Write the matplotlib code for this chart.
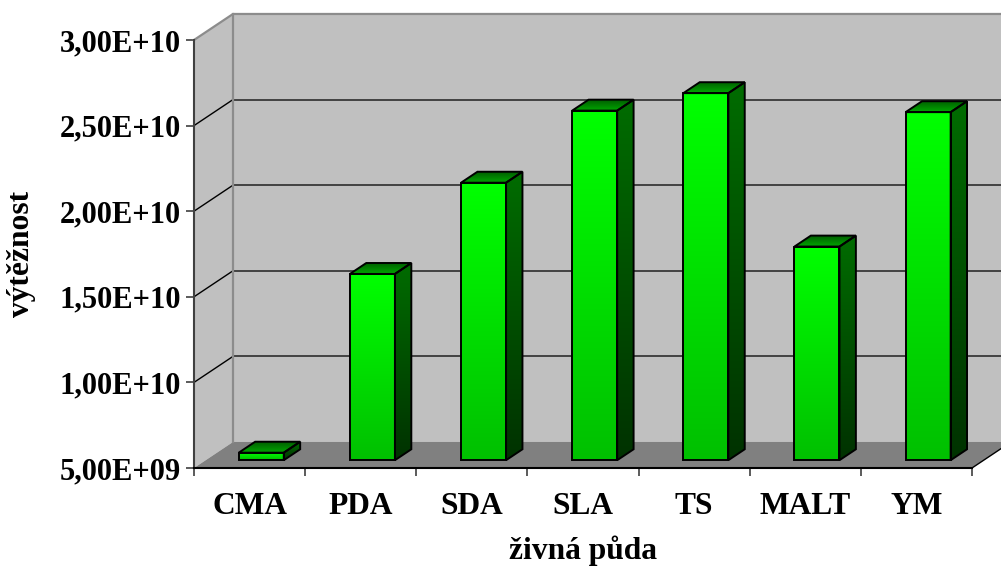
import numpy as np
import matplotlib
matplotlib.use('Agg')
import matplotlib.pyplot as plt
from matplotlib.patches import Polygon
from matplotlib.colors import LinearSegmentedColormap

categories = ['CMA', 'PDA', 'SDA', 'SLA', 'TS', 'MALT', 'YM']
vytez = [5.44e9, 1.588e10, 2.121e10, 2.542e10, 2.644e10, 1.748e10, 2.533e10]
y_ticks = [5e9, 1e10, 1.5e10, 2e10, 2.5e10, 3e10]

Y0, Y1 = 5e9, 3e10
N = len(categories)
DX, DY = 0.351, 1.52e9      # oblique offset of the back wall
BAR_W = 0.405
D0, D1 = 0.30, 0.72         # bar depth range (0 = front, 1 = back wall)

plt.rcParams['font.family'] = ['Liberation Serif', 'DejaVu Serif']
plt.rcParams['font.weight'] = 'bold'
FS_TICK = 22
FS = 22.7


def proj(x, y, d):
    return (x + d * DX, y + d * DY)


def shaded(ax, pts, c_top, c_bot, z):
    poly = Polygon(pts, closed=True, fc='none', ec='black', lw=1.4,
                   joinstyle='miter', zorder=z + 0.1, clip_on=False)
    ax.add_patch(poly)
    xs = [p[0] for p in pts]
    ys = [p[1] for p in pts]
    cmap = LinearSegmentedColormap.from_list('shade', [c_bot, c_top])
    grad = np.linspace(0, 1, 128).reshape(-1, 1)
    im = ax.imshow(grad, cmap=cmap, origin='lower', aspect='auto',
                   extent=(min(xs), max(xs), min(ys), max(ys)),
                   interpolation='bilinear', zorder=z)
    im.set_clip_path(poly)
    im.set_clip_box(None)


fig = plt.figure(figsize=(10.01, 5.74), dpi=100)
ax = fig.add_axes([194 / 1001, 106 / 574, 778 / 1001, 428 / 574])
ax.set_facecolor('none')

# walls and floor
side = [proj(0, Y0, 0), proj(0, Y0, 1), proj(0, Y1, 1), proj(0, Y1, 0)]
back = [proj(0, Y0, 1), proj(N, Y0, 1), proj(N, Y1, 1), proj(0, Y1, 1)]
floor = [proj(0, Y0, 0), proj(N, Y0, 0), proj(N, Y0, 1), proj(0, Y0, 1)]
ax.add_patch(Polygon(side, fc='#c0c0c0', ec='none', zorder=1, clip_on=False))
ax.add_patch(Polygon(back, fc='#c0c0c0', ec='none', zorder=1, clip_on=False))
ax.add_patch(Polygon(floor, fc='#808080', ec='none', zorder=1.2, clip_on=False))

for v in y_ticks[1:-1]:
    bx = [proj(0, v, 1)[0], proj(N, v, 1)[0]]
    by = [proj(0, v, 1)[1], proj(N, v, 1)[1]]
    ax.plot(bx, by, color='#202020', lw=1.1, zorder=1.5, clip_on=False)
    ax.plot([0, DX], [v, v + DY], color='black', lw=1.0, zorder=1.5,
            clip_on=False)

# outer edges of the walls
ax.plot([0, DX, N + DX], [Y1, Y1 + DY, Y1 + DY], color='#8c8c8c', lw=1.6,
        zorder=1.6, clip_on=False)
ax.plot([DX, DX], [Y0 + DY, Y1 + DY], color='#8c8c8c', lw=1.6,
        zorder=1.6, clip_on=False)
ax.plot([N, N + DX], [Y0, Y0 + DY], color='black', lw=1.0,
        zorder=1.6, clip_on=False)

# bars
for i, v in enumerate(vytez):
    xl = i + 0.5 - BAR_W / 2
    xr = i + 0.5 + BAR_W / 2
    front = [proj(xl, Y0, D0), proj(xr, Y0, D0), proj(xr, v, D0), proj(xl, v, D0)]
    right = [proj(xr, Y0, D0), proj(xr, Y0, D1), proj(xr, v, D1), proj(xr, v, D0)]
    top = [proj(xl, v, D0), proj(xr, v, D0), proj(xr, v, D1), proj(xl, v, D1)]
    shaded(ax, front, '#00ff00', '#00c000', 3)
    shaded(ax, right, '#006c00', '#003200', 3)
    shaded(ax, top, '#006000', '#00a800', 3)

ax.set_xlim(0, N)
ax.set_ylim(Y0, Y1)

for s in ['top', 'right']:
    ax.spines[s].set_visible(False)
ax.spines['left'].set_color('#404040')
ax.spines['left'].set_linewidth(1.5)
ax.spines['bottom'].set_color('black')
ax.spines['bottom'].set_linewidth(1.5)
ax.spines['left'].set_zorder(2)
ax.spines['bottom'].set_zorder(2)

ax.set_yticks(y_ticks)
ax.set_yticklabels([f'{t:.2E}'.replace('.', ',') for t in y_ticks],
                   fontsize=FS_TICK, fontweight='bold')
ax.tick_params(axis='y', direction='out', length=6, width=1.2,
               color='#404040', pad=3.5)

ax.set_xticks(np.arange(N + 1))
ax.set_xticklabels([])
ax.set_xticks(np.arange(N) + 0.5, minor=True)
ax.set_xticklabels(categories, minor=True, fontsize=FS, fontweight='bold')
ax.tick_params(axis='x', which='major', direction='out', length=6,
               width=1.2, color='#404040')
ax.tick_params(axis='x', which='minor', length=0, pad=17)

ax.set_xlabel('živná půda', fontsize=FS, fontweight='bold')
ax.xaxis.set_label_coords(0.5, -0.158)
ax.set_ylabel('výtěžnost', fontsize=FS, fontweight='bold')
ax.yaxis.set_label_coords(-0.203, 0.5)

fig.savefig('out.png', dpi=100)
